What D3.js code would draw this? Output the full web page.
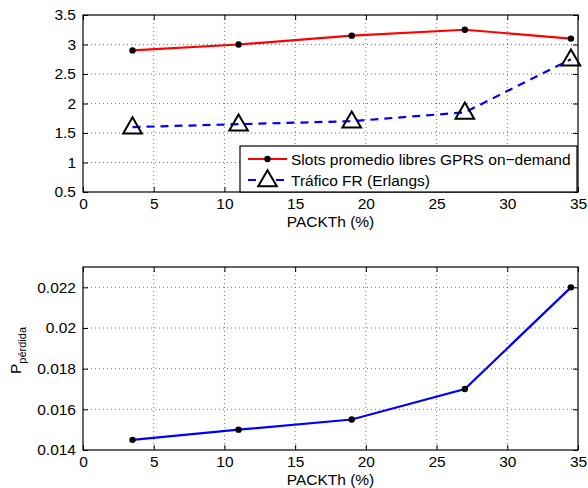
<!DOCTYPE html>
<html>
<head>
<script src="https://d3js.org/d3.v7.min.js"></script>
<style>
  body { margin: 0; background: #fff; font-family: "Liberation Sans", Arial, sans-serif; }
  .grid line { stroke: #555; stroke-dasharray: 1,3; stroke-width: 0.8; }
  .tick text { font-size: 15.5px; font-family: "Liberation Sans", Arial, sans-serif; fill: #000; }
</style>
</head>
<body>
<div id="chart"></div>
<script>
const packth = [3.5, 11, 19, 27, 34.5];
const slotsLibres = [2.9, 3.0, 3.15, 3.25, 3.1];
const traficoFR = [1.6, 1.65, 1.7, 1.85, 2.75];
const pPerdida = [0.0145, 0.015, 0.0155, 0.017, 0.022];
const xTicks = [0, 5, 10, 15, 20, 25, 30, 35];
const yTicksTop = [0.5, 1, 1.5, 2, 2.5, 3, 3.5];
const yTicksBottom = [0.014, 0.016, 0.018, 0.02, 0.022];

const W = 588, H = 488;
const svg = d3.select("#chart").append("svg").attr("width", W).attr("height", H);

const left = 83, right = 578;
const x = d3.scaleLinear().domain([0, 35]).range([left, right]);

function panel(top, bottom, yDomain, yTicks, fmt) {
    const y = d3.scaleLinear().domain(yDomain).range([bottom, top]);
    const g = svg.append("g");
    // grid
    const grid = g.append("g").attr("class", "grid");
    grid.selectAll(".vx").data(xTicks.slice(1, -1)).enter().append("line")
        .attr("x1", d => x(d)).attr("x2", d => x(d)).attr("y1", top).attr("y2", bottom);
    grid.selectAll(".hy").data(yTicks.filter(t => y(t) > top + 1 && y(t) < bottom - 1)).enter().append("line")
        .attr("y1", d => y(d)).attr("y2", d => y(d)).attr("x1", left).attr("x2", right);
    // axes
    const ax = g.append("g").attr("transform", `translate(0,${bottom})`)
        .call(d3.axisBottom(x).tickValues(xTicks).tickSize(-5).tickPadding(6).tickFormat(d3.format("d")));
    const axT = g.append("g").attr("transform", `translate(0,${top})`)
        .call(d3.axisTop(x).tickValues(xTicks).tickSize(-5).tickFormat(""));
    const ay = g.append("g").attr("transform", `translate(${left},0)`)
        .call(d3.axisLeft(y).tickValues(yTicks).tickSize(-5).tickPadding(7).tickFormat(fmt));
    const ayR = g.append("g").attr("transform", `translate(${right},0)`)
        .call(d3.axisRight(y).tickValues(yTicks).tickSize(-5).tickFormat(""));
    [ax, axT, ay, ayR].forEach(a => {
        a.select(".domain").remove();
        a.selectAll(".tick line").attr("stroke", "#000");
    });
    g.append("rect").attr("x", left).attr("y", top).attr("width", right - left).attr("height", bottom - top)
        .attr("fill", "none").attr("stroke", "#000").attr("stroke-width", 1.2);
    return y;
}

// top panel
const yTop = panel(15, 192, [0.5, 3.5], yTicksTop, d3.format("~g"));
const line = yS => d3.line().x((d, i) => x(packth[i])).y(d => yS(d));

svg.append("path").datum(slotsLibres).attr("d", line(yTop))
    .attr("fill", "none").attr("stroke", "#ff0000").attr("stroke-width", 2.2);
svg.selectAll(".redpt").data(slotsLibres).enter().append("circle")
    .attr("cx", (d, i) => x(packth[i])).attr("cy", d => yTop(d)).attr("r", 3.2).attr("fill", "#000");

svg.append("path").datum(traficoFR).attr("d", line(yTop))
    .attr("fill", "none").attr("stroke", "#0000ff").attr("stroke-width", 2.2).attr("stroke-dasharray", "8,6");
const tri = d3.symbol().type(d3.symbolTriangle).size(150);
svg.selectAll(".tri").data(traficoFR).enter().append("path")
    .attr("d", tri).attr("transform", (d, i) => `translate(${x(packth[i])},${yTop(d) + 1})`)
    .attr("fill", "none").attr("stroke", "#000").attr("stroke-width", 2);

// legend
const lg = svg.append("g").attr("transform", "translate(240,146)");
lg.append("rect").attr("width", 337).attr("height", 46).attr("fill", "#fff").attr("stroke", "#000").attr("stroke-width", 1.2);
lg.append("line").attr("x1", 8).attr("x2", 47).attr("y1", 13).attr("y2", 13).attr("stroke", "#ff0000").attr("stroke-width", 2.2);
lg.append("circle").attr("cx", 27.5).attr("cy", 13).attr("r", 3.2).attr("fill", "#000");
lg.append("text").attr("x", 51).attr("y", 18.5).attr("font-size", 15.5).text("Slots promedio libres GPRS on\u2212demand");
lg.append("line").attr("x1", 8).attr("x2", 47).attr("y1", 34).attr("y2", 34).attr("stroke", "#0000ff").attr("stroke-width", 2.2).attr("stroke-dasharray", "8,6");
lg.append("path").attr("d", tri).attr("transform", "translate(27.5,35)").attr("fill", "#fff").attr("stroke", "#000").attr("stroke-width", 2);
lg.append("text").attr("x", 51).attr("y", 39.5).attr("font-size", 15.5).text("Tr\u00e1fico FR (Erlangs)");

svg.append("text").attr("x", (left + right) / 2).attr("y", 227).attr("text-anchor", "middle")
    .attr("font-size", 15.5).text("PACKTh (%)");

// bottom panel
const yBot = panel(267, 450, [0.014, 0.023], yTicksBottom, d3.format("~g"));
svg.append("path").datum(pPerdida).attr("d", line(yBot))
    .attr("fill", "none").attr("stroke", "#0000ff").attr("stroke-width", 2.2);
svg.selectAll(".bpt").data(pPerdida).enter().append("circle")
    .attr("cx", (d, i) => x(packth[i])).attr("cy", d => yBot(d)).attr("r", 3.2).attr("fill", "#000");

svg.append("text").attr("x", (left + right) / 2).attr("y", 484.5).attr("text-anchor", "middle")
    .attr("font-size", 15.5).text("PACKTh (%)");

const yl = svg.append("text").attr("transform", "translate(21,374) rotate(-90)").attr("text-anchor", "start").attr("font-size", 15.5);
yl.append("tspan").text("P");
yl.append("tspan").attr("dy", 5).attr("font-size", 11).text("p\u00e9rdida");
</script>
</body>
</html>
